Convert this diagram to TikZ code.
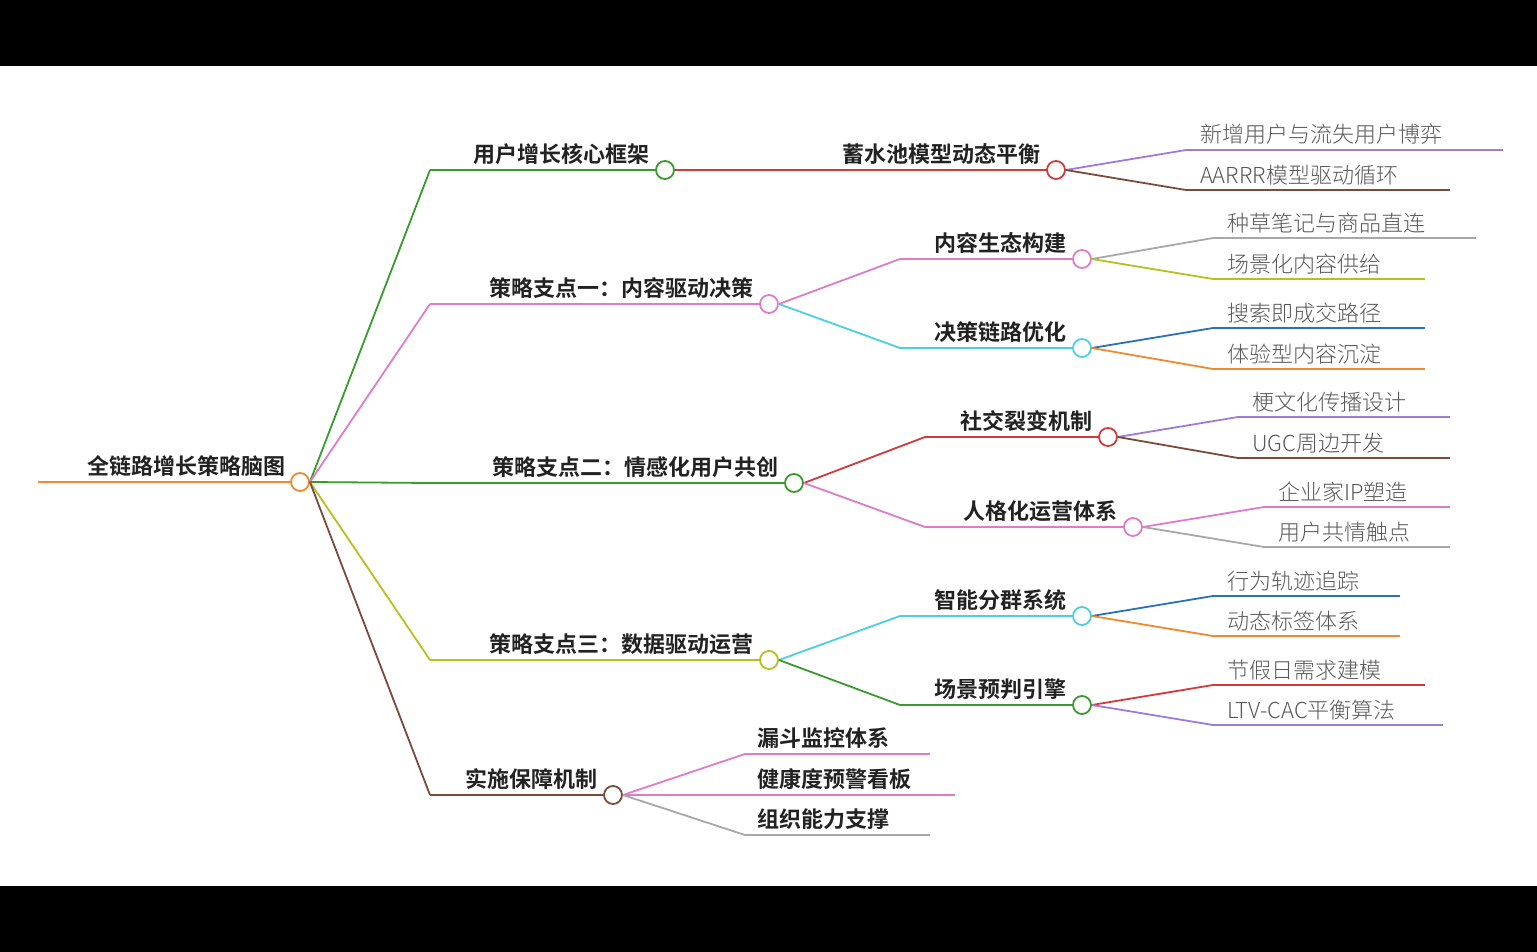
\documentclass[tikz,border=0pt]{standalone}
\usepackage{fontspec}
\setmainfont{Noto Sans CJK SC}
\newfontfamily\boldcjk[FakeBold=0]{Noto Sans CJK SC Bold}
\newfontfamily\lightcjk{Noto Sans CJK SC Light}
\definecolor{cgreen}{HTML}{3A9A2E}
\definecolor{cpink}{HTML}{E07BC8}
\definecolor{colive}{HTML}{B5C21E}
\definecolor{cbrown}{HTML}{7B4A3A}
\definecolor{cred}{HTML}{D03A3A}
\definecolor{ccyan}{HTML}{4CCFE0}
\definecolor{cpurple}{HTML}{A07ADB}
\definecolor{cgray}{HTML}{A8A8A8}
\definecolor{cblue}{HTML}{2A72B8}
\definecolor{corange}{HTML}{F08A2E}
\definecolor{ctext}{HTML}{222222}
\tikzset{
 dot/.style={circle,draw=#1,fill=white,line width=1.8pt,minimum size=18pt,inner sep=0pt},
 br/.style={draw=#1,line width=1.8pt},
 btxt/.style={font=\boldcjk\fontsize{22}{24}\selectfont,text=ctext,inner sep=0pt,anchor=south east},
 ltxt/.style={font=\lightcjk\fontsize{22}{24}\selectfont,text=black!65,inner sep=0pt,anchor=south west},
 ctxt/.style={font=\boldcjk\fontsize{22}{24}\selectfont,text=ctext,inner sep=0pt,anchor=south west}
}
% \mmcurve{from}{to}{color}
\newcommand\mmcurve[3]{\draw[br=#3] (#1) .. controls ($(#1)!0.5!(#2)$ |- #1) and ($(#1)!0.5!(#2)$ |- #2) .. (#2);}
% \mmleaf{name}{parentdot}{y}{xs}{xe}{color}{text}
\newcommand\mmleaf[7]{%
 \coordinate (#1s) at (#4,#3); \coordinate (#1e) at (#5,#3);
 \mmcurve{#2.east}{#1s}{#6}
 \draw[br=#6] (#1s) -- (#1e);
 \node[ltxt] (#1) at (#4+14,#3-5) {#7};}
\usetikzlibrary{calc}
\begin{document}
\begin{tikzpicture}[x=1pt,y=-1pt]
\fill[black] (0,0) rectangle (1537,952);
\fill[white] (0,66) rectangle (1537,886);
\useasboundingbox (0,0) rectangle (1537,952);
% root
\node[dot=corange] (r) at (300,482) {};
\draw[br=corange] (38,482) -- (r.west);
\node[btxt] (rt) at (286,477) {全链路增长策略脑图};
% level 1
\newcommand\mmlone[6]{% name, y, xs, xc, color, text
 \coordinate (#1s) at (#3,#2);
 \node[dot=#5] (#1) at (#4,#2) {};
 \mmcurve{r.east}{#1s}{#5}
 \draw[br=#5] (#1s) -- (#1.west);
 \node[btxt] (#1t) at (#4-15,#2-5) {#6};}
\mmlone{a}{170}{430}{665}{cgreen}{用户增长核心框架}
\mmlone{b}{304}{430}{769}{cpink}{策略支点一：内容驱动决策}
\mmlone{c}{483}{430}{794}{cgreen}{策略支点二：情感化用户共创}
\mmlone{d}{660}{430}{769}{colive}{策略支点三：数据驱动运营}
\mmlone{e}{795}{430}{613}{cbrown}{实施保障机制}
% level 2
\newcommand\mmltwo[7]{% name, parent, y, xs, xc, color, text
 \coordinate (#1s) at (#4,#3);
 \node[dot=#6] (#1) at (#5,#3) {};
 \mmcurve{#2.east}{#1s}{#6}
 \draw[br=#6] (#1s) -- (#1.west);
 \node[btxt] (#1t) at (#5-15,#3-5) {#7};}
\mmltwo{a1}{a}{170}{780}{1056}{cred}{蓄水池模型动态平衡}
\mmltwo{b1}{b}{259}{900}{1082}{cpink}{内容生态构建}
\mmltwo{b2}{b}{348}{900}{1082}{ccyan}{决策链路优化}
\mmltwo{c1}{c}{437}{925}{1108}{cred}{社交裂变机制}
\mmltwo{c2}{c}{527}{925}{1133}{cpink}{人格化运营体系}
\mmltwo{d1}{d}{616}{900}{1082}{ccyan}{智能分群系统}
\mmltwo{d2}{d}{705}{900}{1082}{cgreen}{场景预判引擎}
% level 2 under e (no dots)
\newcommand\mmetwo[5]{% name, y, xe, color, text
 \coordinate (#1s) at (745,#2); \coordinate (#1e) at (#3,#2);
 \mmcurve{e.east}{#1s}{#4}
 \draw[br=#4] (#1s) -- (#1e);
 \node[ctxt] (#1) at (757,#2-5) {#5};}
\mmetwo{e1}{754}{930}{cpink}{漏斗监控体系}
\mmetwo{e2}{795}{955}{cpink}{健康度预警看板}
\mmetwo{e3}{835}{930}{cgray}{组织能力支撑}
% leaves
\mmleaf{l1}{a1}{150}{1186}{1503}{cpurple}{新增用户与流失用户博弈}
\mmleaf{l2}{a1}{190}{1186}{1450}{cbrown}{AARRR模型驱动循环}
\mmleaf{l3}{b1}{238}{1213}{1476}{cgray}{种草笔记与商品直连}
\mmleaf{l4}{b1}{279}{1213}{1425}{colive}{场景化内容供给}
\mmleaf{l5}{b2}{328}{1213}{1425}{cblue}{搜索即成交路径}
\mmleaf{l6}{b2}{369}{1213}{1425}{corange}{体验型内容沉淀}
\mmleaf{l7}{c1}{417}{1238}{1450}{cpurple}{梗文化传播设计}
\mmleaf{l8}{c1}{458}{1238}{1450}{cbrown}{UGC周边开发}
\mmleaf{l9}{c2}{507}{1264}{1450}{cpink}{企业家IP塑造}
\mmleaf{l10}{c2}{547}{1264}{1450}{cgray}{用户共情触点}
\mmleaf{l11}{d1}{596}{1213}{1400}{cblue}{行为轨迹追踪}
\mmleaf{l12}{d1}{636}{1213}{1400}{corange}{动态标签体系}
\mmleaf{l13}{d2}{685}{1213}{1425}{cred}{节假日需求建模}
\mmleaf{l14}{d2}{725}{1213}{1443}{cpurple}{LTV-CAC平衡算法}
\end{tikzpicture}
\end{document}
